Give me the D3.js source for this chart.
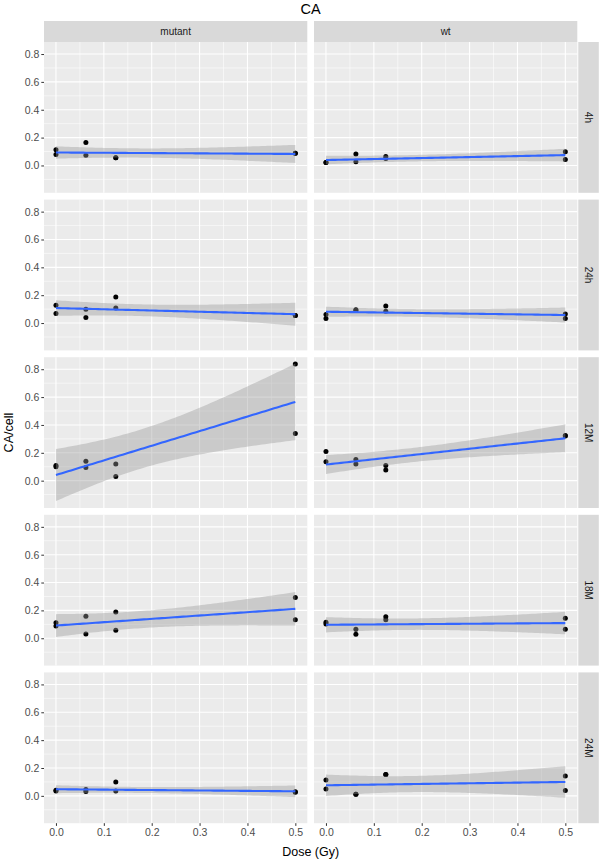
<!DOCTYPE html>
<html>
<head>
<meta charset="utf-8">
<script src="https://cdn.jsdelivr.net/npm/d3@7"></script>
<style>
  body { margin: 0; background: #fff; }
  svg text { font-family: "Liberation Sans", Arial, sans-serif; }
</style>
</head>
<body>
<div id="chart"></div>
<script>
// facets and doses
const genotypes = ["mutant", "wt"];
const timepoints = ["4h", "24h", "12M", "18M", "24M"];
const doses = [0, 0, 0.0625, 0.0625, 0.125, 0.125, 0.5, 0.5];

// CA/cell per facet, one value per dose above
const mutant4h  = [0.112, 0.079, 0.165, 0.074, 0.055, 0.055, 0.088, 0.088];
const wt4h      = [0.022, 0.022, 0.083, 0.026, 0.065, 0.050, 0.098, 0.043];
const mutant24h = [0.127, 0.069, 0.100, 0.040, 0.187, 0.108, 0.055, 0.055];
const wt24h     = [0.062, 0.033, 0.096, 0.090, 0.122, 0.084, 0.065, 0.033];
const mutant12M = [0.109, 0.099, 0.140, 0.094, 0.119, 0.030, 0.838, 0.339];
const wt12M     = [0.209, 0.135, 0.152, 0.119, 0.109, 0.076, 0.325, 0.320];
const mutant18M = [0.112, 0.088, 0.158, 0.031, 0.189, 0.058, 0.292, 0.132];
const wt18M     = [0.115, 0.103, 0.065, 0.029, 0.155, 0.132, 0.144, 0.065];
const mutant24M = [0.040, 0.034, 0.046, 0.031, 0.099, 0.034, 0.030, 0.026];
const wt24M     = [0.113, 0.050, 0.012, 0.012, 0.153, 0.153, 0.143, 0.038];

// axis ticks
const xTicks = [0, 0.1, 0.2, 0.3, 0.4, 0.5];
const yTicks = [0, 0.2, 0.4, 0.6, 0.8];

const series = {
  mutant: { "4h": mutant4h, "24h": mutant24h, "12M": mutant12M, "18M": mutant18M, "24M": mutant24M },
  wt:     { "4h": wt4h,     "24h": wt24h,     "12M": wt12M,     "18M": wt18M,     "24M": wt24M }
};

// layout
const W = 600, H = 861;
const colLeft = [44, 314];
const panelW = 263.3;
const rowTop = [42, 199.6, 357.2, 514.8, 672.4];
const panelH = 150.8;

const x = d3.scaleLinear().domain([-0.025, 0.525]).range([0, panelW]);
const y = d3.scaleLinear().domain([-0.1963, 0.8864]).range([panelH, 0]);

// lm fit with 95% band, like geom_smooth(method = "lm")
const tCrit = { 6: 2.4469 };
function lmFit(xs, ys) {
  const n = xs.length;
  const mx = d3.mean(xs), my = d3.mean(ys);
  const sxx = d3.sum(xs, v => (v - mx) ** 2);
  const sxy = d3.sum(xs, (v, i) => (v - mx) * (ys[i] - my));
  const b = sxy / sxx, a = my - b * mx;
  const rss = d3.sum(xs, (v, i) => (ys[i] - (a + b * v)) ** 2);
  const s = Math.sqrt(rss / (n - 2));
  const t = tCrit[n - 2];
  const grid = d3.range(80).map(i => 0.5 * i / 79);
  return grid.map(g => {
    const fit = a + b * g;
    const se = s * Math.sqrt(1 / n + (g - mx) ** 2 / sxx);
    return { x: g, fit, lo: fit - t * se, hi: fit + t * se };
  });
}

const svg = d3.select("#chart").append("svg").attr("width", W).attr("height", H);

genotypes.forEach((gt, ci) => {
  timepoints.forEach((tp, ri) => {
    const g = svg.append("g").attr("transform", `translate(${colLeft[ci]},${rowTop[ri]})`);
    const vals = series[gt][tp];

    g.append("rect").attr("width", panelW).attr("height", panelH).attr("fill", "#EBEBEB");

    // minor grid
    [-0.1, 0.1, 0.3, 0.5, 0.7].forEach(v => {
      g.append("line").attr("x1", 0).attr("x2", panelW).attr("y1", y(v)).attr("y2", y(v))
        .attr("stroke", "#fff").attr("stroke-width", 0.55);
    });
    [0.05, 0.15, 0.25, 0.35, 0.45].forEach(v => {
      g.append("line").attr("y1", 0).attr("y2", panelH).attr("x1", x(v)).attr("x2", x(v))
        .attr("stroke", "#fff").attr("stroke-width", 0.55);
    });
    // major grid
    yTicks.forEach(v => {
      g.append("line").attr("x1", 0).attr("x2", panelW).attr("y1", y(v)).attr("y2", y(v))
        .attr("stroke", "#fff").attr("stroke-width", 1.1);
    });
    xTicks.forEach(v => {
      g.append("line").attr("y1", 0).attr("y2", panelH).attr("x1", x(v)).attr("x2", x(v))
        .attr("stroke", "#fff").attr("stroke-width", 1.1);
    });

    // points first, smooth on top
    g.selectAll("circle").data(doses.map((d, i) => ({ d, v: vals[i] })))
      .join("circle")
      .attr("cx", p => x(p.d)).attr("cy", p => y(p.v)).attr("r", 2.5)
      .attr("fill", "#000");

    const fit = lmFit(doses, vals);
    g.append("path").datum(fit)
      .attr("d", d3.area().x(p => x(p.x)).y0(p => y(p.lo)).y1(p => y(p.hi)))
      .attr("fill", "#999999").attr("fill-opacity", 0.4);
    g.append("path").datum(fit)
      .attr("d", d3.line().x(p => x(p.x)).y(p => y(p.fit)))
      .attr("fill", "none").attr("stroke", "#3366FF").attr("stroke-width", 2.1);

    // y axis on left column
    if (ci === 0) {
      const ay = g.append("g").call(d3.axisLeft(y).tickValues(yTicks).tickFormat(d3.format(".1f")).tickSize(2.7).tickPadding(2));
      ay.select(".domain").remove();
      ay.selectAll("line").attr("stroke", "#333333");
      ay.selectAll("text").attr("fill", "#4D4D4D").style("font-size", "10.5px");
    }
    // x axis on bottom row
    if (ri === timepoints.length - 1) {
      const ax = g.append("g").attr("transform", `translate(0,${panelH})`)
        .call(d3.axisBottom(x).tickValues(xTicks).tickFormat(d3.format(".1f")).tickSize(2.7).tickPadding(2.5));
      ax.select(".domain").remove();
      ax.selectAll("line").attr("stroke", "#333333");
      ax.selectAll("text").attr("fill", "#4D4D4D").style("font-size", "10.5px");
    }
  });

  // top strip
  svg.append("rect").attr("x", colLeft[ci]).attr("y", 21).attr("width", panelW).attr("height", 21)
    .attr("fill", "#D9D9D9");
  svg.append("text").attr("x", colLeft[ci] + panelW / 2).attr("y", 31.5)
    .attr("text-anchor", "middle").attr("dominant-baseline", "central")
    .attr("fill", "#1A1A1A").style("font-size", "10px").text(gt);
});

// right strips
timepoints.forEach((tp, ri) => {
  svg.append("rect").attr("x", 578.3).attr("y", rowTop[ri]).attr("width", 20.5).attr("height", panelH)
    .attr("fill", "#D9D9D9");
  svg.append("text").attr("transform", `translate(588.5,${rowTop[ri] + panelH / 2}) rotate(90)`)
    .attr("text-anchor", "middle").attr("dominant-baseline", "central")
    .attr("fill", "#1A1A1A").style("font-size", "10px").text(tp);
});

// titles
const midX = (colLeft[0] + colLeft[1] + panelW) / 2;
svg.append("text").attr("x", midX).attr("y", 13.5).attr("text-anchor", "middle")
  .attr("fill", "#000").style("font-size", "14.5px").text("CA");
svg.append("text").attr("x", midX).attr("y", 856).attr("text-anchor", "middle")
  .attr("fill", "#000").style("font-size", "12.5px").text("Dose (Gy)");
svg.append("text").attr("transform", `translate(12.5,${(rowTop[0] + rowTop[4] + panelH) / 2}) rotate(-90)`)
  .attr("text-anchor", "middle").attr("fill", "#000").style("font-size", "12.5px").text("CA/cell");
</script>
</body>
</html>
